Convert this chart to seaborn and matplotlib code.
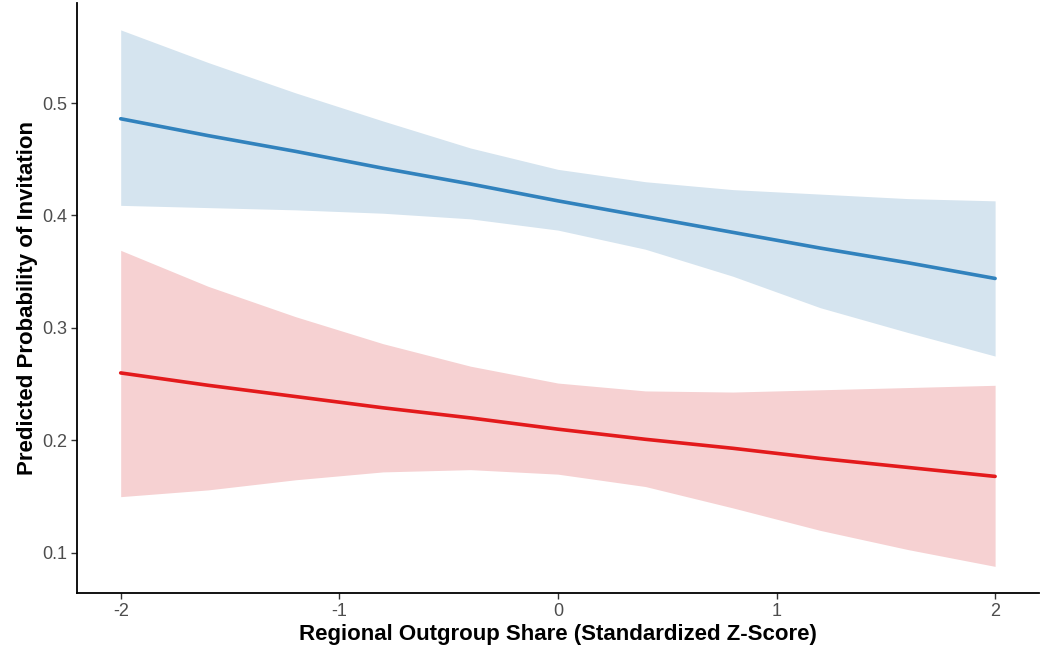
import numpy as np
import pandas as pd
import matplotlib
matplotlib.use("Agg")
import matplotlib.pyplot as plt
import seaborn as sns

# Data
x_vals = [-2.0, -1.6, -1.2, -0.8, -0.4, 0.0, 0.4, 0.8, 1.2, 1.6, 2.0]

blue_fit = [0.486, 0.471, 0.457, 0.442, 0.428, 0.413, 0.399, 0.385, 0.371, 0.358, 0.344]
blue_upper = [0.565, 0.536, 0.509, 0.484, 0.460, 0.441, 0.430, 0.423, 0.419, 0.415, 0.413]
blue_lower = [0.409, 0.407, 0.405, 0.402, 0.397, 0.387, 0.370, 0.346, 0.318, 0.296, 0.275]

red_fit = [0.260, 0.249, 0.239, 0.229, 0.220, 0.210, 0.201, 0.193, 0.184, 0.176, 0.168]
red_upper = [0.369, 0.337, 0.310, 0.286, 0.266, 0.251, 0.244, 0.243, 0.245, 0.247, 0.249]
red_lower = [0.150, 0.156, 0.165, 0.172, 0.174, 0.170, 0.159, 0.140, 0.120, 0.103, 0.088]

groups = ["blue", "red"]
x_ticks = [-2, -1, 0, 1, 2]
y_ticks = [0.1, 0.2, 0.3, 0.4, 0.5]

sns.set_theme(style="white")
plt.rcParams["font.family"] = ["Liberation Sans", "DejaVu Sans"]

line_colors = {"blue": "#3182BD", "red": "#E31A1C"}
fill_colors = {"blue": "#D5E4EF", "red": "#F6D1D2"}

df = pd.DataFrame({
    "x": x_vals * 2,
    "fit": blue_fit + red_fit,
    "lo": blue_lower + red_lower,
    "hi": blue_upper + red_upper,
    "group": ["blue"] * len(x_vals) + ["red"] * len(x_vals),
})

fig = plt.figure(figsize=(10.43, 6.56), dpi=100)
ax = fig.add_axes([0.0738, 0.0953, 0.9222, 0.9001])

for g in groups:
    sub = df[df["group"] == g]
    ax.fill_between(sub["x"], sub["lo"], sub["hi"], color=fill_colors[g], linewidth=0, zorder=1)

sns.lineplot(data=df, x="x", y="fit", hue="group", palette=line_colors,
             linewidth=2.6, legend=False, ax=ax, zorder=3, estimator=None)

ax.set_xlim(-2.2, 2.2)
ax.set_ylim(0.0639, 0.5889)
ax.set_xticks(x_ticks)
ax.set_xticklabels([str(t) for t in x_ticks])
ax.set_yticks(y_ticks)
ax.set_yticklabels([f"{t:.1f}" for t in y_ticks])

for s in ["top", "right"]:
    ax.spines[s].set_visible(False)
for s in ["left", "bottom"]:
    ax.spines[s].set_color("black")
    ax.spines[s].set_linewidth(1.3)

ax.tick_params(axis="both", which="major", direction="out", length=4, width=1.0,
               color="#333333", labelcolor="#4D4D4D", labelsize=13, pad=3,
               bottom=True, left=True)

ax.set_xlabel("Regional Outgroup Share (Standardized Z-Score)", fontsize=16,
              fontweight="bold", color="black", labelpad=3)
ax.set_ylabel("Predicted Probability of Invitation", fontsize=16,
              fontweight="bold", color="black", labelpad=3)

fig.savefig("out.png", dpi=100)
